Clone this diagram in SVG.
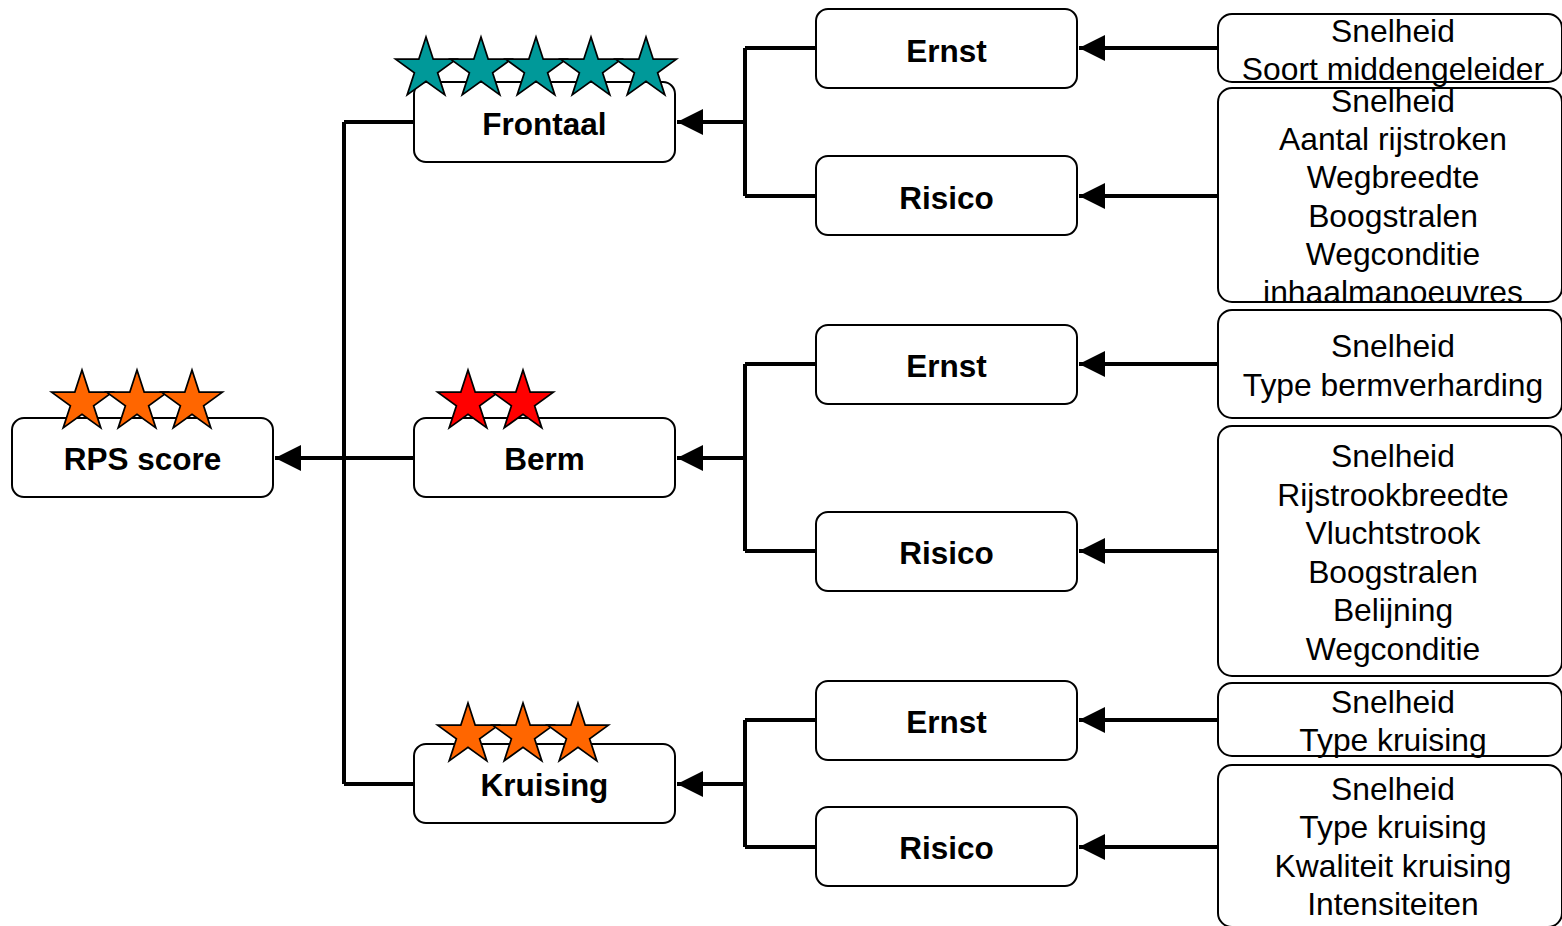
<svg xmlns="http://www.w3.org/2000/svg" xmlns:xlink="http://www.w3.org/1999/xlink" width="1562" height="926" viewBox="0 0 1562 926">
<style>
.box{fill:#fff;stroke:#000;stroke-width:2}
.lbl{font-family:"Liberation Sans",Arial,sans-serif;font-size:31.5px;font-weight:bold;text-anchor:middle;fill:#000}
.lst{font-family:"Liberation Sans",Arial,sans-serif;font-size:31.8px;text-anchor:middle;fill:#000}
.ln{fill:none;stroke:#000;stroke-width:4}
.star{stroke:#000;stroke-width:1.7;stroke-linejoin:miter}
.teal{fill:#009999}
.orange{fill:#FF6600}
.red{fill:#FF0000}
</style>
<defs>
<path id="star" d="M0,-32 L7.17,-9.87 L30.43,-9.89 L11.6,3.77 L18.81,25.89 L0,12.2 L-18.81,25.89 L-11.6,3.77 L-30.43,-9.89 L-7.17,-9.87 Z"/>
<marker id="arr" markerWidth="26" markerHeight="26" viewBox="0 0 26 26" refX="26" refY="13" orient="auto" markerUnits="userSpaceOnUse">
<path d="M26,0 L0,13 L26,26 Z" transform="rotate(180 13 13)" fill="#000"/>
</marker>
</defs>
<rect width="1562" height="926" fill="#fff"/>

<g id="connectors">
<path class="ln" d="M344,122 V784 M344,122 H414 M344,784 H414 M414,458 H344"/>
<path class="ln" d="M344,458 H275" marker-end="url(#arr)"/>
<path class="ln" d="M745,48 V196 M745,48 H816 M745,196 H816"/>
<path class="ln" d="M745,122 H677" marker-end="url(#arr)"/>
<path class="ln" d="M745,364 V551 M745,364 H816 M745,551 H816"/>
<path class="ln" d="M745,458 H677" marker-end="url(#arr)"/>
<path class="ln" d="M745,720 V847 M745,720 H816 M745,847 H816"/>
<path class="ln" d="M745,784 H677" marker-end="url(#arr)"/>
<path class="ln" d="M1218,48 H1079" marker-end="url(#arr)"/>
<path class="ln" d="M1218,196 H1079" marker-end="url(#arr)"/>
<path class="ln" d="M1218,364 H1079" marker-end="url(#arr)"/>
<path class="ln" d="M1218,551 H1079" marker-end="url(#arr)"/>
<path class="ln" d="M1218,720 H1079" marker-end="url(#arr)"/>
<path class="ln" d="M1218,847 H1079" marker-end="url(#arr)"/>
</g>

<g id="rps">
<rect class="box" x="12" y="418" width="261" height="79" rx="12"/>
<text class="lbl" x="142.5" y="470">RPS score</text>
<use href="#star" class="star orange" x="82" y="402"/>
<use href="#star" class="star orange" x="137" y="402"/>
<use href="#star" class="star orange" x="192" y="402"/>
</g>

<g id="frontaal">
<rect class="box" x="414" y="82" width="261" height="80" rx="12"/>
<text class="lbl" x="544.5" y="134.5">Frontaal</text>
<use href="#star" class="star teal" x="426" y="69"/>
<use href="#star" class="star teal" x="481" y="69"/>
<use href="#star" class="star teal" x="536" y="69"/>
<use href="#star" class="star teal" x="591" y="69"/>
<use href="#star" class="star teal" x="646" y="69"/>
</g>

<g id="berm">
<rect class="box" x="414" y="418" width="261" height="79" rx="12"/>
<text class="lbl" x="544.5" y="470">Berm</text>
<use href="#star" class="star red" x="468" y="402"/>
<use href="#star" class="star red" x="523" y="402"/>
</g>

<g id="kruising">
<rect class="box" x="414" y="744" width="261" height="79" rx="12"/>
<text class="lbl" x="544.5" y="796">Kruising</text>
<use href="#star" class="star orange" x="468" y="735"/>
<use href="#star" class="star orange" x="523" y="735"/>
<use href="#star" class="star orange" x="578" y="735"/>
</g>

<g id="ernst1"><rect class="box" x="816" y="9" width="261" height="79" rx="12"/><text class="lbl" x="946.5" y="61.5">Ernst</text></g>
<g id="risico1"><rect class="box" x="816" y="156" width="261" height="79" rx="12"/><text class="lbl" x="946.5" y="208.5">Risico</text></g>
<g id="ernst2"><rect class="box" x="816" y="325" width="261" height="79" rx="12"/><text class="lbl" x="946.5" y="377">Ernst</text></g>
<g id="risico2"><rect class="box" x="816" y="512" width="261" height="79" rx="12"/><text class="lbl" x="946.5" y="564">Risico</text></g>
<g id="ernst3"><rect class="box" x="816" y="681" width="261" height="79" rx="12"/><text class="lbl" x="946.5" y="733">Ernst</text></g>
<g id="risico3"><rect class="box" x="816" y="807" width="261" height="79" rx="12"/><text class="lbl" x="946.5" y="859">Risico</text></g>

<g id="factors1">
<rect class="box" x="1218" y="14" width="344" height="68" rx="14"/>
<text class="lst" x="1393" y="41.5">Snelheid</text>
<text class="lst" x="1393" y="80">Soort middengeleider</text>
</g>
<g id="factors2">
<rect class="box" x="1218" y="88" width="344" height="214" rx="14"/>
<text class="lst" x="1393" y="112">Snelheid</text>
<text class="lst" x="1393" y="150.2">Aantal rijstroken</text>
<text class="lst" x="1393" y="188.4">Wegbreedte</text>
<text class="lst" x="1393" y="226.6">Boogstralen</text>
<text class="lst" x="1393" y="264.8">Wegconditie</text>
<text class="lst" x="1393" y="303">inhaalmanoeuvres</text>
</g>
<g id="factors3">
<rect class="box" x="1218" y="310" width="344" height="108" rx="14"/>
<text class="lst" x="1393" y="357">Snelheid</text>
<text class="lst" x="1393" y="396">Type bermverharding</text>
</g>
<g id="factors4">
<rect class="box" x="1218" y="426" width="344" height="250" rx="14"/>
<text class="lst" x="1393" y="467">Snelheid</text>
<text class="lst" x="1393" y="505.5">Rijstrookbreedte</text>
<text class="lst" x="1393" y="544">Vluchtstrook</text>
<text class="lst" x="1393" y="582.5">Boogstralen</text>
<text class="lst" x="1393" y="621">Belijning</text>
<text class="lst" x="1393" y="659.5">Wegconditie</text>
</g>
<g id="factors5">
<rect class="box" x="1218" y="683" width="344" height="73" rx="14"/>
<text class="lst" x="1393" y="713">Snelheid</text>
<text class="lst" x="1393" y="751">Type kruising</text>
</g>
<g id="factors6">
<rect class="box" x="1218" y="765" width="344" height="162" rx="14"/>
<text class="lst" x="1393" y="799.5">Snelheid</text>
<text class="lst" x="1393" y="838">Type kruising</text>
<text class="lst" x="1393" y="876.5">Kwaliteit kruising</text>
<text class="lst" x="1393" y="915">Intensiteiten</text>
</g>
</svg>
